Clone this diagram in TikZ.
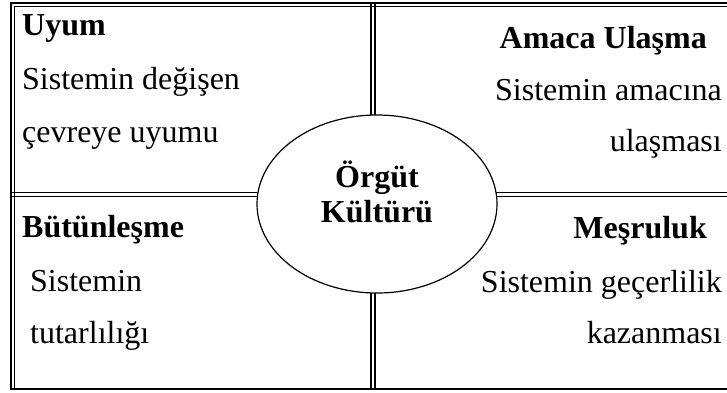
\documentclass[tikz,border=0pt]{standalone}
\usepackage{fontspec}
\setmainfont{Liberation Serif}
\usepackage{tikz}
\usetikzlibrary{shapes.geometric}

\begin{document}
\begin{tikzpicture}[x=1pt, y=-1pt,
  thickrule/.style={line width=2pt},
  thinrule/.style={line width=1.1pt},
  title/.style={inner sep=0pt, font=\fontsize{32}{38}\selectfont\bfseries},
  body/.style={inner sep=0pt, font=\fontsize{32}{38}\selectfont}]
\useasboundingbox (0,0) rectangle (727,392);

% Outer frame (thick outside, thin inside)
\draw[thickrule] (740,3) -- (11,3) -- (11,389) -- (740,389);
\draw[thinrule] (740,6.5) -- (14.5,6.5) -- (14.5,389);

% Dividers between the four fields
\draw[thinrule, line width=1.5pt] (371,3) -- (371,389);
\draw[thinrule, line width=1.5pt] (375,3) -- (375,389);
\draw[thinrule, line width=1.3pt] (11,192.5) -- (740,192.5);
\draw[thickrule, line width=1.8pt] (11,196.5) -- (740,196.5);

% Top left
\node[title, anchor=base west] (uyum) at (22,35) {Uyum};
\node[body, anchor=base west] (uyum1) at (22,89) {Sistemin değişen};
\node[body, anchor=base west] (uyum2) at (22,142) {çevreye uyumu};

% Top right
\node[title, anchor=base east] (amac) at (707,48) {Amaca Ulaşma};
\node[body, anchor=base east] (amac1) at (722,100) {Sistemin amacına};
\node[body, anchor=base east] (amac2) at (722,151) {ulaşması};

% Bottom left
\node[title, anchor=base west] (butun) at (22,237) {Bütünleşme};
\node[body, anchor=base west] (butun1) at (30,291) {Sistemin};
\node[body, anchor=base west] (butun2) at (30,343) {tutarlılığı};

% Bottom right
\node[title, anchor=base east] (mesru) at (707,238) {Meşruluk};
\node[body, anchor=base east] (mesru1) at (722,292) {Sistemin geçerlilik};
\node[body, anchor=base east] (mesru2) at (722,343) {kazanması};

% Centre
\node[draw, ellipse, fill=white, line width=1.2pt, inner sep=0pt,
  minimum width=240pt, minimum height=178pt] (kultur) at (377,204) {};
\node[title, anchor=base] (kultur1) at (377,187) {Örgüt};
\node[title, anchor=base] (kultur2) at (377,222) {Kültürü};
\end{tikzpicture}
\end{document}
